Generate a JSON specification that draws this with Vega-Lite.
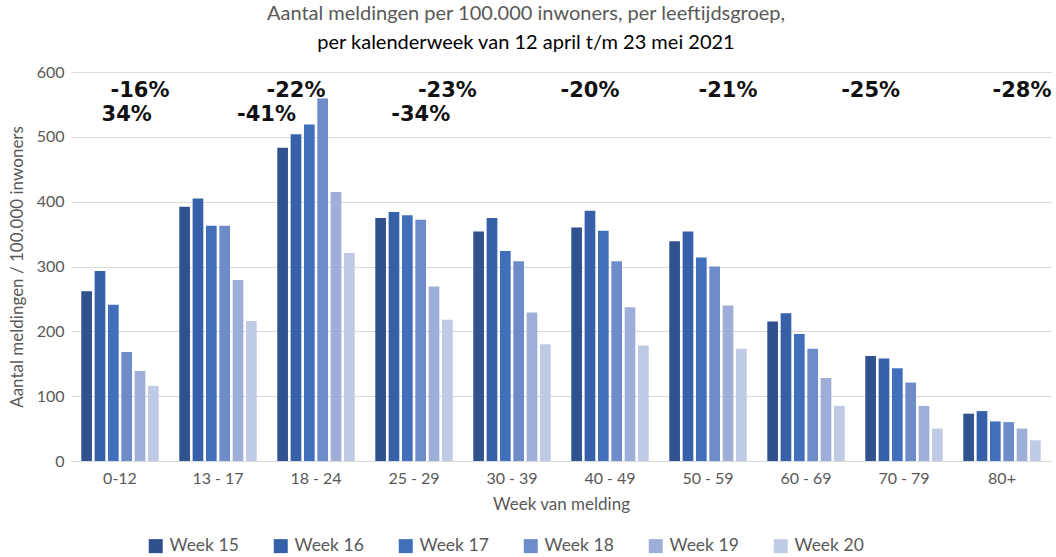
{
  "$schema": "https://vega.github.io/schema/vega-lite/v6.json",
  "width": 980,
  "height": 389,
  "autosize": {"type": "none"},
  "padding": {"left": 71, "top": 72, "right": 5, "bottom": 96},
  "background": "white",
  "title": {
    "text": "Aantal meldingen per 100.000 inwoners, per leeftijdsgroep,",
    "subtitle": "per kalenderweek van 12 april t/m 23 mei 2021",
    "font": "Lato",
    "fontSize": 20,
    "fontWeight": "normal",
    "color": "#595959",
    "subtitleFont": "Lato",
    "subtitleFontSize": 20,
    "subtitleColor": "#000000",
    "anchor": "middle",
    "dx": -35,
    "offset": 11,
    "subtitlePadding": 9
  },
  "datasets": {
    "bars": [
      {"group": "0-12", "week": "Week 15", "value": 262},
      {"group": "0-12", "week": "Week 16", "value": 293},
      {"group": "0-12", "week": "Week 17", "value": 241},
      {"group": "0-12", "week": "Week 18", "value": 168},
      {"group": "0-12", "week": "Week 19", "value": 139},
      {"group": "0-12", "week": "Week 20", "value": 116},
      {"group": "13 - 17", "week": "Week 15", "value": 392},
      {"group": "13 - 17", "week": "Week 16", "value": 405},
      {"group": "13 - 17", "week": "Week 17", "value": 363},
      {"group": "13 - 17", "week": "Week 18", "value": 363},
      {"group": "13 - 17", "week": "Week 19", "value": 279},
      {"group": "13 - 17", "week": "Week 20", "value": 216},
      {"group": "18 - 24", "week": "Week 15", "value": 483},
      {"group": "18 - 24", "week": "Week 16", "value": 504},
      {"group": "18 - 24", "week": "Week 17", "value": 519},
      {"group": "18 - 24", "week": "Week 18", "value": 559},
      {"group": "18 - 24", "week": "Week 19", "value": 415},
      {"group": "18 - 24", "week": "Week 20", "value": 321},
      {"group": "25 - 29", "week": "Week 15", "value": 375},
      {"group": "25 - 29", "week": "Week 16", "value": 384},
      {"group": "25 - 29", "week": "Week 17", "value": 379},
      {"group": "25 - 29", "week": "Week 18", "value": 372},
      {"group": "25 - 29", "week": "Week 19", "value": 269},
      {"group": "25 - 29", "week": "Week 20", "value": 218},
      {"group": "30 - 39", "week": "Week 15", "value": 354},
      {"group": "30 - 39", "week": "Week 16", "value": 375},
      {"group": "30 - 39", "week": "Week 17", "value": 324},
      {"group": "30 - 39", "week": "Week 18", "value": 308},
      {"group": "30 - 39", "week": "Week 19", "value": 229},
      {"group": "30 - 39", "week": "Week 20", "value": 180},
      {"group": "40 - 49", "week": "Week 15", "value": 360},
      {"group": "40 - 49", "week": "Week 16", "value": 386},
      {"group": "40 - 49", "week": "Week 17", "value": 355},
      {"group": "40 - 49", "week": "Week 18", "value": 308},
      {"group": "40 - 49", "week": "Week 19", "value": 237},
      {"group": "40 - 49", "week": "Week 20", "value": 178},
      {"group": "50 - 59", "week": "Week 15", "value": 339},
      {"group": "50 - 59", "week": "Week 16", "value": 354},
      {"group": "50 - 59", "week": "Week 17", "value": 314},
      {"group": "50 - 59", "week": "Week 18", "value": 300},
      {"group": "50 - 59", "week": "Week 19", "value": 240},
      {"group": "50 - 59", "week": "Week 20", "value": 173},
      {"group": "60 - 69", "week": "Week 15", "value": 215},
      {"group": "60 - 69", "week": "Week 16", "value": 228},
      {"group": "60 - 69", "week": "Week 17", "value": 196},
      {"group": "60 - 69", "week": "Week 18", "value": 173},
      {"group": "60 - 69", "week": "Week 19", "value": 128},
      {"group": "60 - 69", "week": "Week 20", "value": 85},
      {"group": "70 - 79", "week": "Week 15", "value": 162},
      {"group": "70 - 79", "week": "Week 16", "value": 158},
      {"group": "70 - 79", "week": "Week 17", "value": 143},
      {"group": "70 - 79", "week": "Week 18", "value": 121},
      {"group": "70 - 79", "week": "Week 19", "value": 85},
      {"group": "70 - 79", "week": "Week 20", "value": 50},
      {"group": "80+", "week": "Week 15", "value": 73},
      {"group": "80+", "week": "Week 16", "value": 77},
      {"group": "80+", "week": "Week 17", "value": 61},
      {"group": "80+", "week": "Week 18", "value": 60},
      {"group": "80+", "week": "Week 19", "value": 50},
      {"group": "80+", "week": "Week 20", "value": 32}
    ],
    "labels": [
      {"group": "0-12", "week": "Week 19", "label": "-16%", "value": 570},
      {"group": "0-12", "week": "Week 18", "label": "34%", "value": 533},
      {"group": "18 - 24", "week": "Week 16", "label": "-22%", "value": 570},
      {"group": "25 - 29", "week": "Week 20", "label": "-23%", "value": 570},
      {"group": "25 - 29", "week": "Week 18", "label": "-34%", "value": 533},
      {"group": "40 - 49", "week": "Week 16", "label": "-20%", "value": 570},
      {"group": "50 - 59", "week": "Week 19", "label": "-21%", "value": 570},
      {"group": "70 - 79", "week": "Week 15", "label": "-25%", "value": 570},
      {"group": "80+", "week": "Week 19", "label": "-28%", "value": 570}
    ],
    "labelsRight": [
      {"group": "18 - 24", "week": "Week 16", "label": "-41%", "value": 533}
    ]
  },
  "config": {
    "view": {"stroke": null},
    "axis": {
      "labelFont": "Lato",
      "titleFont": "Lato",
      "labelColor": "#595959",
      "titleColor": "#595959",
      "labelFontSize": 16,
      "titleFontSize": 17,
      "titleFontWeight": "normal",
      "ticks": false
    }
  },
  "layer": [
    {
      "data": {"name": "bars"},
      "mark": {"type": "bar"},
      "encoding": {
        "x": {
          "field": "group",
          "type": "nominal",
          "sort": null,
          "scale": {"paddingInner": 0.21, "paddingOuter": 0.105},
          "axis": {
            "title": "Week van melding",
            "labelAngle": 0,
            "labelPadding": 9,
            "titlePadding": 10,
            "domainColor": "#d9d9d9",
            "grid": false
          }
        },
        "xOffset": {
          "field": "week",
          "type": "nominal",
          "scale": {"paddingInner": 0.2, "paddingOuter": 0}
        },
        "y": {
          "field": "value",
          "type": "quantitative",
          "scale": {"domain": [0, 600], "nice": false},
          "axis": {
            "title": "Aantal meldingen / 100.000 inwoners",
            "values": [0, 100, 200, 300, 400, 500, 600],
            "domain": false,
            "gridColor": "#d9d9d9",
            "labelPadding": 7,
            "titlePadding": 10
          }
        },
        "color": {
          "field": "week",
          "type": "nominal",
          "scale": {
            "domain": ["Week 15", "Week 16", "Week 17", "Week 18", "Week 19", "Week 20"],
            "range": ["#2f518d", "#3661a8", "#416fbc", "#6d8cc9", "#9eaed8", "#bfcae5"]
          },
          "legend": {
            "title": null,
            "orient": "none",
            "legendX": 76,
            "legendY": 465,
            "direction": "horizontal",
            "columns": 6,
            "columnPadding": 33,
            "symbolType": "square",
            "symbolSize": 196,
            "symbolStrokeWidth": 0,
            "labelFont": "Lato",
            "labelFontSize": 17.5,
            "labelColor": "#595959",
            "labelOffset": 5
          }
        }
      }
    },
    {
      "data": {"name": "labels"},
      "mark": {"type": "text", "font": "DejaVu Sans", "fontWeight": "bold", "fontSize": 21, "color": "#111111", "baseline": "middle"},
      "encoding": {
        "x": {"field": "group", "type": "nominal", "sort": null},
        "xOffset": {"field": "week", "type": "nominal"},
        "y": {"field": "value", "type": "quantitative"},
        "text": {"field": "label"}
      }
    },
    {
      "data": {"name": "labelsRight"},
      "mark": {"type": "text", "font": "DejaVu Sans", "fontWeight": "bold", "fontSize": 21, "color": "#111111", "baseline": "middle", "align": "right"},
      "encoding": {
        "x": {"field": "group", "type": "nominal", "sort": null},
        "xOffset": {"field": "week", "type": "nominal"},
        "y": {"field": "value", "type": "quantitative"},
        "text": {"field": "label"}
      }
    }
  ]
}
